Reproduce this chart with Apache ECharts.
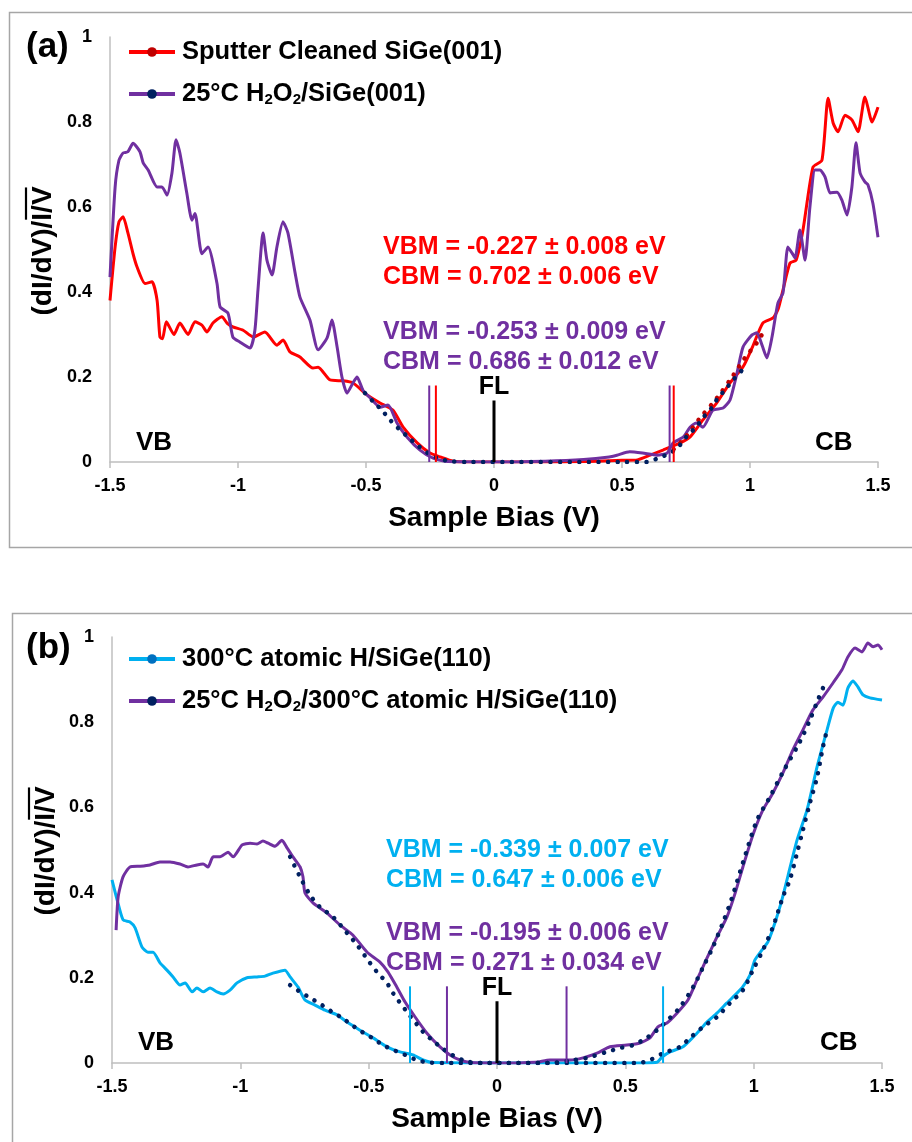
<!DOCTYPE html>
<html>
<head>
<meta charset="UTF-8">
<title>STS SiGe</title>
<script src="https://cdn.jsdelivr.net/npm/echarts@6/dist/echarts.min.js"></script>
<style>
	html, body { margin: 0; padding: 0; background: #fff; }
	#chart { width: 912px; height: 1142px; }
</style>
</head>
<body>
<div id="chart"></div>
<script>
// ---- data: [bias (V), (dI/dV)/(I/V)] ----
var redA = [[-1.5,0.38],[-1.48,0.506],[-1.465,0.565],[-1.449,0.577],[-1.43,0.539],[-1.41,0.49],[-1.395,0.46],[-1.363,0.42],[-1.336,0.424],[-1.316,0.38],[-1.305,0.294],[-1.295,0.29],[-1.28,0.33],[-1.25,0.30],[-1.227,0.327],[-1.195,0.30],[-1.168,0.33],[-1.141,0.322],[-1.121,0.306],[-1.098,0.327],[-1.063,0.342],[-1.043,0.327],[-1.02,0.318],[-0.98,0.31],[-0.94,0.294],[-0.895,0.306],[-0.848,0.275],[-0.824,0.287],[-0.797,0.259],[-0.758,0.247],[-0.707,0.221],[-0.687,0.223],[-0.64,0.193],[-0.59,0.191],[-0.55,0.186],[-0.496,0.158],[-0.445,0.139],[-0.395,0.122],[-0.355,0.082],[-0.30,0.045],[-0.25,0.021],[-0.21,0.012],[-0.16,0.002],[-0.1,0],[0,0],[0.2,0],[0.4,0.002],[0.5,0.004],[0.56,0.005],[0.61,0.016],[0.66,0.028],[0.727,0.045],[0.766,0.059],[0.816,0.099],[0.87,0.139],[0.922,0.186],[0.973,0.224],[1.01,0.271],[1.05,0.327],[1.09,0.339],[1.11,0.36],[1.129,0.405],[1.156,0.468],[1.18,0.475],[1.207,0.546],[1.246,0.694],[1.281,0.71],[1.305,0.856],[1.325,0.797],[1.344,0.777],[1.371,0.816],[1.398,0.805],[1.422,0.777],[1.449,0.859],[1.477,0.80],[1.5,0.835]];
var purpleA = [[-1.5,0.435],[-1.48,0.647],[-1.465,0.71],[-1.449,0.727],[-1.43,0.73],[-1.41,0.75],[-1.383,0.73],[-1.37,0.703],[-1.351,0.687],[-1.316,0.647],[-1.297,0.647],[-1.277,0.628],[-1.258,0.68],[-1.242,0.758],[-1.227,0.727],[-1.20,0.633],[-1.18,0.569],[-1.168,0.585],[-1.141,0.49],[-1.117,0.506],[-1.082,0.42],[-1.07,0.365],[-1.039,0.35],[-1.02,0.294],[-0.992,0.282],[-0.953,0.268],[-0.934,0.31],[-0.922,0.405],[-0.902,0.539],[-0.887,0.475],[-0.867,0.44],[-0.848,0.506],[-0.824,0.565],[-0.805,0.539],[-0.777,0.445],[-0.758,0.388],[-0.719,0.334],[-0.687,0.264],[-0.652,0.292],[-0.633,0.334],[-0.613,0.271],[-0.594,0.2],[-0.574,0.162],[-0.551,0.186],[-0.535,0.2],[-0.512,0.169],[-0.484,0.151],[-0.445,0.129],[-0.414,0.134],[-0.379,0.092],[-0.34,0.059],[-0.289,0.028],[-0.238,0.009],[-0.18,0.001],[0,0],[0.2,0.002],[0.35,0.006],[0.45,0.012],[0.48,0.016],[0.53,0.024],[0.58,0.021],[0.637,0.016],[0.676,0.021],[0.70,0.045],[0.74,0.059],[0.766,0.082],[0.79,0.092],[0.816,0.082],[0.855,0.122],[0.895,0.127],[0.922,0.146],[0.949,0.209],[0.973,0.271],[1.008,0.299],[1.027,0.304],[1.047,0.275],[1.066,0.245],[1.086,0.294],[1.109,0.374],[1.129,0.398],[1.148,0.506],[1.164,0.492],[1.176,0.48],[1.195,0.546],[1.215,0.475],[1.234,0.6],[1.254,0.687],[1.273,0.687],[1.293,0.671],[1.313,0.633],[1.34,0.635],[1.359,0.616],[1.379,0.581],[1.398,0.647],[1.414,0.751],[1.43,0.68],[1.449,0.659],[1.461,0.652],[1.48,0.609],[1.5,0.529]];
var fitPurpleA = [[-0.504,0.162],[-0.47,0.141],[-0.438,0.122],[-0.406,0.099],[-0.375,0.08],[-0.336,0.059],[-0.30,0.04],[-0.258,0.021],[-0.219,0.009],[-0.172,0.002],[-0.1,0],[0.5,0],[0.6,0.0],[0.64,0.009],[0.688,0.021],[0.727,0.04],[0.758,0.064],[0.79,0.082],[0.816,0.104],[0.85,0.127],[0.875,0.151],[0.902,0.169],[0.934,0.193],[0.969,0.216]];
var fitRedA = [[0.702,0.03],[0.75,0.06],[0.8,0.1],[0.87,0.15],[0.93,0.2],[0.98,0.245],[1.03,0.283],[1.06,0.315]];

var cyanB = [[-1.5,0.43],[-1.48,0.383],[-1.457,0.336],[-1.43,0.331],[-1.41,0.317],[-1.383,0.272],[-1.36,0.26],[-1.34,0.26],[-1.313,0.235],[-1.286,0.218],[-1.262,0.202],[-1.235,0.183],[-1.215,0.188],[-1.188,0.167],[-1.169,0.176],[-1.145,0.167],[-1.118,0.176],[-1.091,0.167],[-1.067,0.162],[-1.04,0.171],[-1.013,0.188],[-0.974,0.2],[-0.935,0.202],[-0.904,0.204],[-0.873,0.211],[-0.826,0.218],[-0.806,0.202],[-0.775,0.178],[-0.748,0.148],[-0.709,0.136],[-0.67,0.124],[-0.623,0.113],[-0.584,0.096],[-0.534,0.077],[-0.483,0.059],[-0.429,0.038],[-0.378,0.026],[-0.327,0.019],[-0.288,0.007],[-0.249,0.001],[0,0],[0.5,0],[0.623,0.002],[0.643,0.014],[0.674,0.026],[0.725,0.038],[0.779,0.07],[0.818,0.096],[0.857,0.117],[0.896,0.141],[0.935,0.164],[0.958,0.179],[0.986,0.207],[1.005,0.242],[1.032,0.265],[1.056,0.285],[1.083,0.329],[1.11,0.383],[1.134,0.44],[1.169,0.523],[1.208,0.594],[1.247,0.695],[1.286,0.782],[1.31,0.833],[1.328,0.847],[1.348,0.84],[1.367,0.88],[1.387,0.897],[1.406,0.883],[1.426,0.864],[1.453,0.857],[1.5,0.852]];
var purpleB = [[-1.484,0.312],[-1.476,0.39],[-1.457,0.437],[-1.43,0.46],[-1.39,0.462],[-1.352,0.465],[-1.313,0.472],[-1.274,0.472],[-1.235,0.467],[-1.204,0.46],[-1.169,0.465],[-1.145,0.467],[-1.126,0.46],[-1.106,0.484],[-1.079,0.484],[-1.048,0.495],[-1.028,0.484],[-0.993,0.512],[-0.962,0.516],[-0.935,0.514],[-0.912,0.521],[-0.892,0.516],[-0.865,0.509],[-0.838,0.523],[-0.818,0.505],[-0.795,0.484],[-0.767,0.46],[-0.756,0.437],[-0.748,0.399],[-0.717,0.376],[-0.662,0.352],[-0.612,0.324],[-0.561,0.3],[-0.506,0.26],[-0.456,0.237],[-0.425,0.214],[-0.39,0.178],[-0.358,0.143],[-0.319,0.108],[-0.273,0.07],[-0.222,0.038],[-0.183,0.019],[-0.144,0.007],[-0.1,0.001],[0,0],[0.15,0.002],[0.206,0.007],[0.284,0.007],[0.335,0.012],[0.39,0.023],[0.44,0.038],[0.506,0.042],[0.557,0.047],[0.596,0.059],[0.627,0.085],[0.662,0.094],[0.701,0.117],[0.744,0.148],[0.779,0.195],[0.818,0.246],[0.857,0.296],[0.896,0.343],[0.927,0.397],[0.958,0.46],[0.997,0.535],[1.036,0.594],[1.075,0.634],[1.114,0.681],[1.153,0.735],[1.192,0.782],[1.231,0.829],[1.27,0.859],[1.309,0.892],[1.344,0.923],[1.367,0.953],[1.395,0.974],[1.422,0.965],[1.445,0.986],[1.465,0.977],[1.484,0.981],[1.5,0.97]];
var fitPurpleB = [[-0.806,0.484],[-0.77,0.44],[-0.728,0.394],[-0.69,0.366],[-0.639,0.343],[-0.584,0.305],[-0.545,0.277],[-0.495,0.235],[-0.464,0.211],[-0.429,0.188],[-0.405,0.164],[-0.351,0.12],[-0.319,0.096],[-0.288,0.073],[-0.253,0.054],[-0.214,0.035],[-0.175,0.019],[-0.12,0.004],[-0.05,0],[0.2,0],[0.296,0.007],[0.35,0.012],[0.428,0.026],[0.479,0.035],[0.53,0.042],[0.58,0.058],[0.623,0.077],[0.674,0.106],[0.713,0.131],[0.764,0.178],[0.803,0.225],[0.841,0.272],[0.88,0.329],[0.915,0.387],[0.958,0.47],[1.013,0.57],[1.063,0.624],[1.114,0.683],[1.18,0.754],[1.219,0.805],[1.25,0.852],[1.27,0.88]];
var fitCyanB = [[-0.806,0.183],[-0.767,0.167],[-0.728,0.153],[-0.682,0.136],[-0.643,0.12],[-0.604,0.106],[-0.565,0.089],[-0.526,0.073],[-0.487,0.059],[-0.444,0.042],[-0.405,0.031],[-0.358,0.019],[-0.312,0.007],[-0.26,0.001],[-0.2,0],[0.55,0],[0.596,0.007],[0.647,0.023],[0.713,0.038],[0.752,0.059],[0.803,0.085],[0.857,0.108],[0.908,0.141],[0.958,0.171],[0.997,0.218],[1.036,0.265],[1.075,0.319],[1.114,0.39],[1.141,0.43],[1.169,0.493],[1.192,0.547],[1.219,0.61],[1.247,0.671],[1.27,0.742],[1.286,0.782]];

// band edges [VBM, CBM] and their errors (eV)
var edgesRedA = [-0.227, 0.702],    errRedA = [0.008, 0.006];
var edgesPurpleA = [-0.253, 0.686], errPurpleA = [0.009, 0.012];
var edgesCyanB = [-0.339, 0.647],   errCyanB = [0.007, 0.006];
var edgesPurpleB = [-0.195, 0.271], errPurpleB = [0.006, 0.034];

var namesA = ['Sputter Cleaned SiGe(001)', '25°C H2O2/SiGe(001)'];
var namesB = ['300°C atomic H/SiGe(110)', '25°C H2O2/300°C atomic H/SiGe(110)'];

var RED = '#FF0000', PURPLE = '#7030A0', CYAN = '#00B0F0', NAVY = '#002060', DARKRED = '#C00000';
var FONT = '"Liberation Sans", Arial, sans-serif';
var MARK_TOP = 0.18, FL_TOP = 0.145;

var chart = echarts.init(document.getElementById('chart'));

function xAxisOf(i) {
	return {
		type: 'value', gridIndex: i, min: -1.5, max: 1.5, interval: 0.5,
		axisLine: { onZero: false, lineStyle: { color: '#BFBFBF', width: 1.5 } },
		axisTick: { show: true, length: 6, lineStyle: { color: '#BFBFBF', width: 1.5 } },
		axisLabel: { fontSize: 18, fontWeight: 'bold', color: '#000', fontFamily: FONT, margin: 15 },
		splitLine: { show: false },
		name: 'Sample Bias (V)', nameLocation: 'middle', nameGap: 42,
		nameTextStyle: { fontSize: 28, fontWeight: 'bold', color: '#000', fontFamily: FONT }
	};
}
function yAxisOf(i) {
	return {
		type: 'value', gridIndex: i, min: 0, max: 1, interval: 0.2,
		axisLine: { show: true, onZero: false, lineStyle: { color: '#BFBFBF', width: 1.5 } },
		axisTick: { show: false },
		axisLabel: { fontSize: 18, fontWeight: 'bold', color: '#000', fontFamily: FONT, margin: 18 },
		splitLine: { show: false }
	};
}
function curve(name, idx, data, lineColor, dotColor) {
	return {
		name: name, type: 'line', xAxisIndex: idx, yAxisIndex: idx, data: data,
		smooth: 0.2, symbol: 'circle', symbolSize: 9, showSymbol: false,
		lineStyle: { color: lineColor, width: 3 }, itemStyle: { color: dotColor },
		silent: true, z: 2
	};
}
function fit(idx, data, color) {
	return {
		type: 'line', xAxisIndex: idx, yAxisIndex: idx, data: data, smooth: 0.3,
		symbol: 'none', silent: true, z: 3,
		lineStyle: { color: color, width: 4.5, type: [0.1, 9.5], cap: 'round' }
	};
}
function vline(idx, x, top, color, width) {
	return {
		type: 'line', xAxisIndex: idx, yAxisIndex: idx, data: [[x, 0], [x, top]],
		symbol: 'none', silent: true, z: 4,
		lineStyle: { color: color, width: width }
	};
}
function legendOf(names, top) {
	return {
		data: names, orient: 'vertical', left: 122, top: top,
		itemWidth: 46, itemHeight: 12, itemGap: 16,
		lineStyle: { width: 4 },
		textStyle: {
			fontSize: 25.5, fontWeight: 'bold', color: '#000', fontFamily: FONT, padding: [0, 0, 0, 2],
			rich: { s: { fontSize: 15, fontWeight: 'bold', fontFamily: FONT, color: '#000', padding: [11, 0, 0, 0] } }
		},
		formatter: function (n) { return n.replace('H2O2', 'H{s|2}O{s|2}'); }
	};
}
function txt(x, y, s, size, color, align) {
	return {
		type: 'text', x: x, y: y, silent: true,
		style: { text: s, font: 'bold ' + size + 'px ' + FONT, fill: color,
			align: align || 'left', verticalAlign: 'middle', textAlign: align || 'left', textVerticalAlign: 'middle' }
	};
}
function edgeText(label, v, e) {
	return label + ' = ' + v.toFixed(3) + ' ± ' + e.toFixed(3) + ' eV';
}
// rotated y title with an overline on "I/V"
function yTitle(cx, cy) {
	var ctx = document.createElement('canvas').getContext('2d');
	ctx.font = 'bold 28px ' + FONT;
	var full = ctx.measureText('(dI/dV)/I/V').width;
	var tail = ctx.measureText('I/V').width;
	var top = cy - full / 2;
	var t = txt(cx, cy, '(dI/dV)/I/V', 28, '#000', 'center');
	t.rotation = Math.PI / 2;
	return [t, {
		type: 'line', silent: true,
		shape: { x1: cx - 17, y1: top + 1, x2: cx - 17, y2: top + tail - 1 },
		style: { stroke: '#000', lineWidth: 2.2 }
	}];
}

var graphics = [
	{ type: 'rect', silent: true, shape: { x: 9.5, y: 12.5, width: 930, height: 535 }, style: { fill: 'none', stroke: '#A6A6A6', lineWidth: 1.5 } },
	{ type: 'rect', silent: true, shape: { x: 12.5, y: 613.5, width: 930, height: 560 }, style: { fill: 'none', stroke: '#A6A6A6', lineWidth: 1.5 } },
	txt(26, 47, '(a)', 35, '#000'),
	txt(26, 648, '(b)', 35, '#000'),
	txt(383, 247, edgeText('VBM', edgesRedA[0], errRedA[0]), 25, RED),
	txt(383, 277, edgeText('CBM', edgesRedA[1], errRedA[1]), 25, RED),
	txt(383, 332, edgeText('VBM', edgesPurpleA[0], errPurpleA[0]), 25, PURPLE),
	txt(383, 362, edgeText('CBM', edgesPurpleA[1], errPurpleA[1]), 25, PURPLE),
	txt(386, 850, edgeText('VBM', edgesCyanB[0], errCyanB[0]), 25, CYAN),
	txt(386, 880, edgeText('CBM', edgesCyanB[1], errCyanB[1]), 25, CYAN),
	txt(386, 933, edgeText('VBM', edgesPurpleB[0], errPurpleB[0]), 25, PURPLE),
	txt(386, 963, edgeText('CBM', edgesPurpleB[1], errPurpleB[1]), 25, PURPLE),
	txt(136, 443, 'VB', 26, '#000'), txt(815, 443, 'CB', 26, '#000'),
	txt(138, 1043, 'VB', 26, '#000'), txt(820, 1043, 'CB', 26, '#000'),
	txt(494, 387, 'FL', 25, '#000', 'center'),
	txt(497, 988, 'FL', 25, '#000', 'center')
].concat(yTitle(43, 251), yTitle(46, 851));

var option = {
	animation: false,
	backgroundColor: '#fff',
	grid: [
		{ left: 110, top: 37, width: 768, height: 425 },
		{ left: 112, top: 637, width: 770, height: 426 }
	],
	xAxis: [xAxisOf(0), xAxisOf(1)],
	yAxis: [yAxisOf(0), yAxisOf(1)],
	legend: [legendOf(namesA, 34), legendOf(namesB, 641)],
	graphic: graphics,
	series: [
		fit(0, fitRedA, DARKRED),
		curve(namesA[0], 0, redA, RED, DARKRED),
		curve(namesA[1], 0, purpleA, PURPLE, NAVY),
		fit(0, fitPurpleA, NAVY),
		vline(0, edgesRedA[0], MARK_TOP, RED, 2), vline(0, edgesRedA[1], MARK_TOP, RED, 2),
		vline(0, edgesPurpleA[0], MARK_TOP, PURPLE, 2), vline(0, edgesPurpleA[1], MARK_TOP, PURPLE, 2),
		vline(0, 0, FL_TOP, '#000', 3),

		curve(namesB[0], 1, cyanB, CYAN, '#0070C0'),
		curve(namesB[1], 1, purpleB, PURPLE, NAVY),
		fit(1, fitCyanB, NAVY),
		fit(1, fitPurpleB, NAVY),
		vline(1, edgesCyanB[0], MARK_TOP, CYAN, 2), vline(1, edgesCyanB[1], MARK_TOP, CYAN, 2),
		vline(1, edgesPurpleB[0], MARK_TOP, PURPLE, 2), vline(1, edgesPurpleB[1], MARK_TOP, PURPLE, 2),
		vline(1, 0, FL_TOP, '#000', 3)
	]
};
chart.setOption(option);
</script>
</body>
</html>
